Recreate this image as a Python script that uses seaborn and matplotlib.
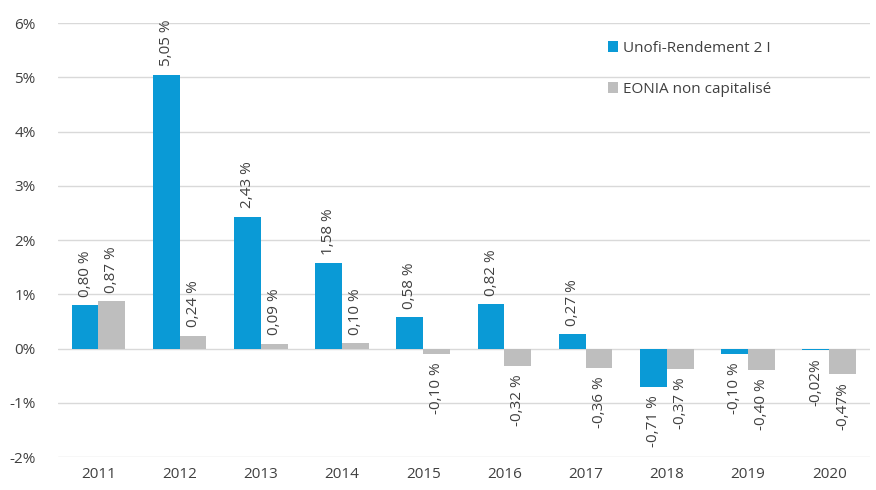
import matplotlib
matplotlib.use("Agg")
import matplotlib.pyplot as plt
import pandas as pd
import seaborn as sns

# ===========================
# DATA
# ===========================

years = ["2011", "2012", "2013", "2014", "2015", "2016", "2017", "2018", "2019", "2020"]
unofi = [0.80, 5.05, 2.43, 1.58, 0.58, 0.82, 0.27, -0.71, -0.10, -0.02]
eonia = [0.87, 0.24, 0.09, 0.10, -0.10, -0.32, -0.36, -0.37, -0.40, -0.47]
series_names = ["Unofi-Rendement 2 I", "EONIA non capitalisé"]
y_ticks = [-2, -1, 0, 1, 2, 3, 4, 5, 6]

BLUE = "#0A9AD6"
GREY = "#BEBEBE"

df = pd.DataFrame({
    "year": years * 2,
    "value": unofi + eonia,
    "series": [series_names[0]] * len(years) + [series_names[1]] * len(years),
})


def fmt_label(v):
    s = f"{v:.2f}".replace(".", ",")
    # the 2020 labels are written without the space in the source
    return s + "%" if v in (-0.02, -0.47) else s + " %"


sns.set_theme(style="white")
plt.rcParams["font.family"] = ["Open Sans", "DejaVu Sans"]

fig = plt.figure(figsize=(8.76, 4.90), dpi=100)
ax = fig.add_axes([0.066, 0.067, 0.927, 0.886])

sns.barplot(
    data=df, x="year", y="value", hue="series",
    palette=[BLUE, GREY], width=0.66, saturation=1, linewidth=0, ax=ax,
)

for container, vals in zip(ax.containers, [unofi, eonia]):
    ax.bar_label(
        container, labels=[fmt_label(v) for v in vals],
        rotation=90, padding=6, fontsize=11, color="#404040",
    )

ax.set_ylim(-2, 6)
ax.set_yticks(y_ticks)
ax.set_yticklabels([f"{t}%" for t in y_ticks])
ax.yaxis.grid(True, color="#D9D9D9", linewidth=1)
ax.set_axisbelow(True)
ax.set_xlabel("")
ax.set_ylabel("")
ax.tick_params(axis="both", length=0, labelsize=11, labelcolor="#404040")
ax.tick_params(axis="y", pad=16)
ax.tick_params(axis="x", pad=7)
ax.set_xlim(-0.5, len(years) - 0.5)
sns.despine(ax=ax, left=True, bottom=True)

ax.legend(
    loc="upper left", bbox_to_anchor=(0.66, 0.99), frameon=False,
    fontsize=11, handlelength=0.7, handleheight=0.7, handletextpad=0.3,
    labelspacing=1.7, labelcolor="#404040",
)

fig.savefig("out.png", dpi=100)
